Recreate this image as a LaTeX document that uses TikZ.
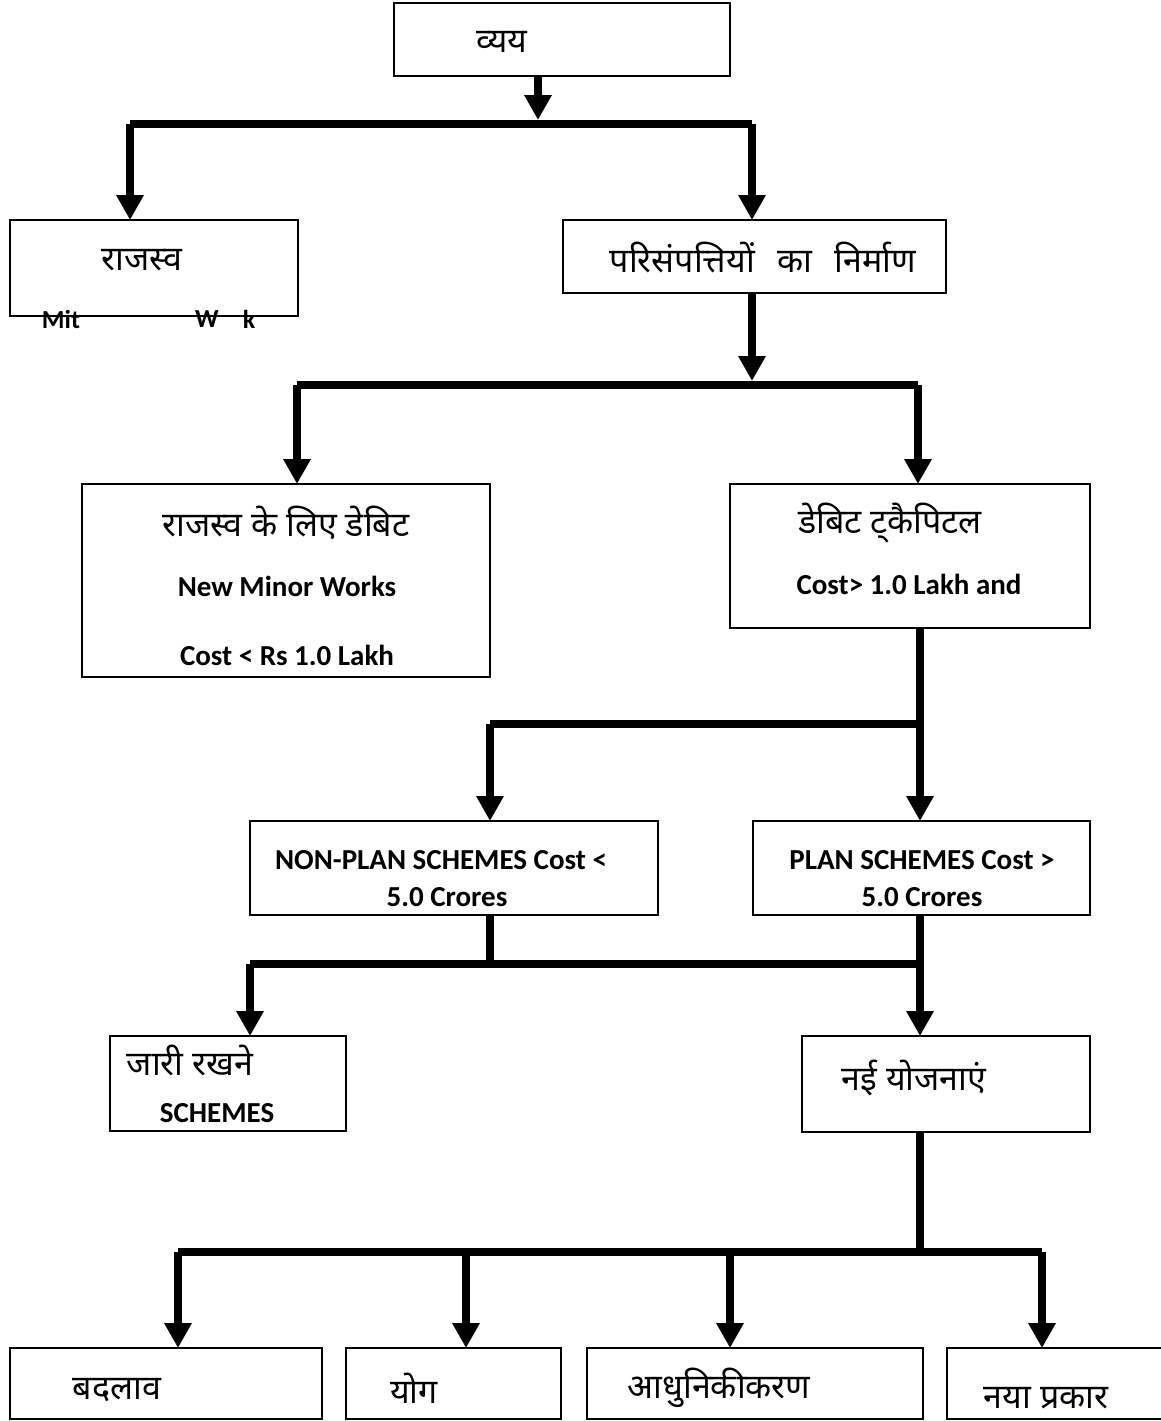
\documentclass[tikz,border=0pt]{standalone}
\usepackage{fontspec}
\usetikzlibrary{arrows.meta,calc}
\setmainfont{Carlito}
\newfontfamily\hindi[Script=Devanagari]{Noto Sans}

% box from its left, top, right and bottom edges
\newcommand\flowbox[5]{%
  \node[box,minimum width={#4-#2},minimum height={#5-#3}] (#1)
    at ({(#2+#4)/2},{(#3+#5)/2}) {};}
% wider gap between words
\newcommand\wgap{\hspace{0.4em}}

\begin{document}
\begin{tikzpicture}[x=1pt,y=-1pt,
  box/.style={draw,line width=1.8pt,rectangle,inner sep=0pt,outer sep=0pt},
  hi/.style={font=\hindi\fontsize{34}{38}\selectfont,inner sep=0pt},
  en/.style={font=\bfseries\fontsize{29}{32}\selectfont,inner sep=0pt},
  ensmall/.style={font=\bfseries\fontsize{26}{28}\selectfont,inner sep=0pt},
  bar/.style={line width=7.5pt,line cap=square},
  stem/.style={line width=7.5pt},
  arr/.style={line width=7.5pt,-{Triangle[length=25pt,width=26pt]}},
]
\useasboundingbox[fill=white] (0,0) rectangle (1160,1421);

% boxes
\flowbox{vyay}{394}{3}{730}{76}
\flowbox{rajasva}{10}{220}{298}{316}
\flowbox{pari}{563}{220}{946}{293}
\flowbox{rdebit}{82}{484}{490}{677}
\flowbox{dcap}{730}{484}{1090}{628}
\flowbox{nonplan}{250}{821}{658}{915}
\flowbox{plan}{753}{821}{1090}{915}
\flowbox{jari}{110}{1036}{346}{1131}
\flowbox{nai}{802}{1036}{1090}{1132}
\flowbox{bA}{10}{1348}{322}{1419}
\flowbox{bB}{346}{1348}{561}{1419}
\flowbox{bC}{587}{1348}{923}{1419}
\flowbox{bD}{947}{1348}{1170}{1419}

% texts
\node[hi] (t0) at (502,42) {व्यय};
\node[hi] (t1) at (142,260) {राजस्व};
\node[ensmall] (t1a) at (61,319) {Mit};
\node[ensmall] (t1b) at (207,319) {W};
\node[ensmall] (t1c) at (249,319) {k};
\node[hi] (t2) at (763,258) {परिसंपत्तियों\wgap{} का\wgap{} निर्माण};
\node[hi] (t3) at (286,523) {राजस्व के लिए डेबिट};
\node[en] (t3a) at (287,586) {New Minor Works};
\node[en] (t3b) at (287,655) {Cost < Rs 1.0 Lakh};
\node[hi] (t4) at (890,523) {डेबिट ट्‌कैपिटल};
\node[en] (t4a) at (909,584) {Cost> 1.0 Lakh and};
\node[en] (t5a) at (441,860) {NON-PLAN SCHEMES Cost <};
\node[en] (t5b) at (447,897) {5.0 Crores};
\node[en] (t6a) at (922,860) {PLAN SCHEMES Cost >};
\node[en] (t6b) at (922,897) {5.0 Crores};
\node[hi] (t7) at (190,1060) {जारी रखने};
\node[en] (t7a) at (217,1113) {SCHEMES};
\node[hi] (t8) at (914,1078) {नई योजनाएं};
\node[hi] (t9) at (117,1390) {बदलाव};
\node[hi] (t10) at (414,1388) {योग};
\node[hi] (t11) at (719,1388) {आधुनिकीकरण};
\node[hi] (t12) at (1046,1398) {नया प्रकार};

% junction points on the bars
\coordinate (J1) at (538,124);
\coordinate (J2) at (752,385);
\coordinate (J3) at (920,724);
\coordinate (J4) at (490,964);
\coordinate (J5) at (920,1252);

% level 1
\draw[arr] (538,0 |- vyay.south) -- (538,120);
\draw[bar] (130,124) -- (752,124);
\draw[arr] (130,124) -- (130,0 |- rajasva.north);
\draw[arr] (752,124) -- (752,0 |- pari.north);

% level 2
\draw[arr] (752,0 |- pari.south) -- (752,381);
\draw[bar] (297,385) -- (918,385);
\draw[arr] (297,385) -- (297,0 |- rdebit.north);
\draw[arr] (918,385) -- (918,0 |- dcap.north);

% level 3
\draw[arr] (920,0 |- dcap.south) -- (920,0 |- plan.north);
\draw[bar] (490,724) -- (J3);
\draw[arr] (490,724) -- (490,0 |- nonplan.north);

% level 4
\draw[stem] (490,0 |- nonplan.south) -- (J4);
\draw[arr] (920,0 |- plan.south) -- (920,0 |- nai.north);
\draw[bar] (250,964) -- (920,964);
\draw[arr] (250,964) -- (250,0 |- jari.north);

% level 5
\draw[stem] (920,0 |- nai.south) -- (J5);
\draw[bar] (178,1252) -- (1042,1252);
\draw[arr] (178,1252) -- (178,0 |- bA.north);
\draw[arr] (466,1252) -- (466,0 |- bB.north);
\draw[arr] (730,1252) -- (730,0 |- bC.north);
\draw[arr] (1042,1252) -- (1042,0 |- bD.north);
\end{tikzpicture}
\end{document}
